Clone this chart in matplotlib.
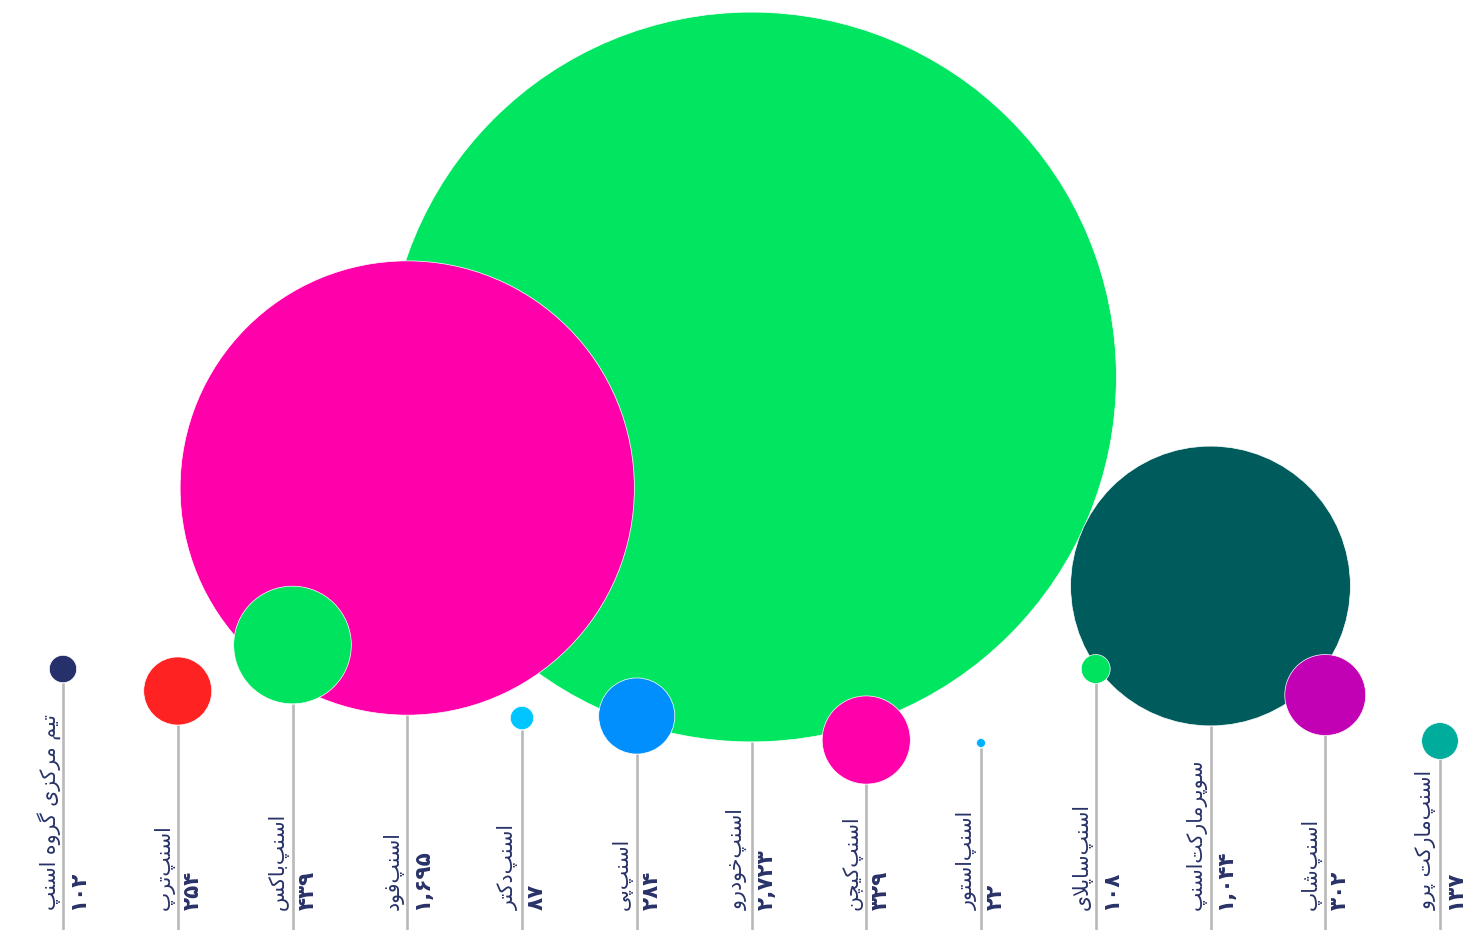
import numpy as np
import matplotlib
matplotlib.use("Agg")
import matplotlib.pyplot as plt
import matplotlib.patches as patches

# داده‌ها (از روی تصویر خوانده شده)
names = [
    "تیم مرکزی گروه اسنپ",
    "اسنپ\u200cترپ",
    "اسنپ\u200cباکس",
    "اسنپ\u200cفود",
    "اسنپ\u200cدکتر",
    "اسنپ\u200cپی",
    "اسنپ\u200cخودرو",
    "اسنپ\u200cکیچن",
    "اسنپ\u200cاستور",
    "اسنپ\u200cساپلای",
    "سوپرمارکت\u200cاسنپ",
    "اسنپ\u200cشاپ",
    "اسنپ\u200cمارکت پرو",
]
values = [102, 254, 439, 1695, 87, 284, 2723, 329, 22, 108, 1044, 302, 137]
# height of each bubble centre above the baseline
heights = [261, 239, 285, 442, 212, 214, 553, 190, 187, 261, 344, 235, 189]
colors = ["#26306a", "#ff2222", "#00e35f", "#ff00aa", "#00c6ff", "#008ffc",
          "#00e660", "#ff00aa", "#00b2ff", "#00e35f", "#005c5c", "#c200b4",
          "#00ad9c"]

TEXT_COLOR = "#283268"
STEM_COLOR = "#b9b9b9"

# حروف فارسی: (تنها، پایانی، آغازی، میانی)
FORMS = {
    'ا': ('\uFE8D', '\uFE8E', None, None),
    'آ': ('\uFE81', '\uFE82', None, None),
    'ب': ('\uFE8F', '\uFE90', '\uFE91', '\uFE92'),
    'پ': ('\uFB56', '\uFB57', '\uFB58', '\uFB59'),
    'ت': ('\uFE95', '\uFE96', '\uFE97', '\uFE98'),
    'ج': ('\uFE9D', '\uFE9E', '\uFE9F', '\uFEA0'),
    'چ': ('\uFB7A', '\uFB7B', '\uFB7C', '\uFB7D'),
    'خ': ('\uFEA5', '\uFEA6', '\uFEA7', '\uFEA8'),
    'د': ('\uFEA9', '\uFEAA', None, None),
    'ر': ('\uFEAD', '\uFEAE', None, None),
    'ز': ('\uFEAF', '\uFEB0', None, None),
    'س': ('\uFEB1', '\uFEB2', '\uFEB3', '\uFEB4'),
    'ش': ('\uFEB5', '\uFEB6', '\uFEB7', '\uFEB8'),
    'ف': ('\uFED1', '\uFED2', '\uFED3', '\uFED4'),
    'ک': ('\uFB8E', '\uFB8F', '\uFB90', '\uFB91'),
    'گ': ('\uFB92', '\uFB93', '\uFB94', '\uFB95'),
    'ل': ('\uFEDD', '\uFEDE', '\uFEDF', '\uFEE0'),
    'م': ('\uFEE1', '\uFEE2', '\uFEE3', '\uFEE4'),
    'ن': ('\uFEE5', '\uFEE6', '\uFEE7', '\uFEE8'),
    'و': ('\uFEED', '\uFEEE', None, None),
    'ه': ('\uFEE9', '\uFEEA', '\uFEEB', '\uFEEC'),
    'ی': ('\uFBFC', '\uFBFD', '\uFBFE', '\uFBFF'),
}


def shape(text):
    """شکل‌دهی ساده‌ی حروف و برعکس کردن ترتیب برای نمایش"""
    out = []
    i = 0
    n = len(text)
    while i < n:
        c = text[i]
        if c not in FORMS:
            if c != '\u200c':
                out.append(c)
            i += 1
            continue
        prev = text[i - 1] if i > 0 else ''
        join_prev = prev in FORMS and FORMS[prev][2] is not None
        nxt = text[i + 1] if i + 1 < n else ''
        if c == 'ل' and nxt == 'ا':
            out.append('\uFEFC' if join_prev else '\uFEFB')
            i += 2
            continue
        join_next = FORMS[c][2] is not None and nxt in FORMS
        iso, fin, ini, med = FORMS[c]
        if join_prev and join_next:
            out.append(med)
        elif join_prev:
            out.append(fin)
        elif join_next:
            out.append(ini)
        else:
            out.append(iso)
        i += 1
    return ''.join(reversed(out))


def fa_num(v):
    return f"{v:,}".translate(str.maketrans("0123456789", "۰۱۲۳۴۵۶۷۸۹"))


fig = plt.figure(figsize=(14.76, 9.3), dpi=100)
ax = fig.add_axes([0, 0, 1, 1])
ax.set_xlim(0, 1476)
ax.set_ylim(0, 930)
ax.axis("off")

k = 0.134  # px radius per unit
xs = 63 + np.arange(len(values)) * 114.75
radii = np.maximum(np.array(values) * k, 4.5)

# stems
for x, h, r in zip(xs, heights, radii):
    ax.plot([x, x], [0, h - r], color=STEM_COLOR, lw=1.9, zorder=1,
            solid_capstyle="butt")

# bubbles, biggest first
order = np.argsort(values)[::-1]
for z, i in enumerate(order):
    c = patches.Circle((xs[i], heights[i]), radii[i], facecolor=colors[i],
                       edgecolor="white", lw=0.5, zorder=2 + z)
    ax.add_patch(c)

# labels
for x, name, v in zip(xs, names, values):
    ax.text(x - 14, 20, shape(name), rotation=90, ha="center", va="bottom",
            fontsize=14.8, color=TEXT_COLOR, family="DejaVu Sans", zorder=30)
    ax.text(x + 15, 20, fa_num(v), rotation=90, ha="center", va="bottom",
            fontsize=15.5, fontweight="bold", color=TEXT_COLOR,
            family="DejaVu Sans", zorder=30)

fig.savefig("out.png", dpi=100, facecolor="white")
